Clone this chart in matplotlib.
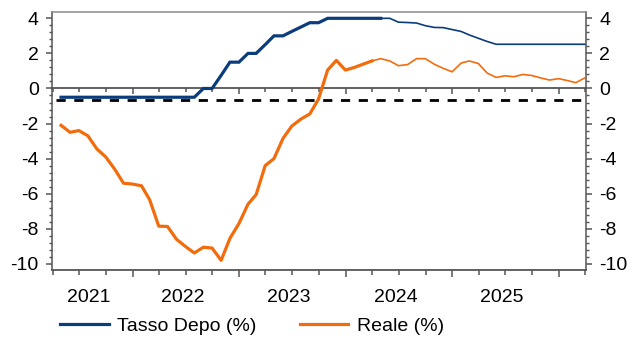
import matplotlib
matplotlib.use('Agg')
import matplotlib.pyplot as plt
import matplotlib.dates as mdates
import matplotlib.transforms as mtransforms
from matplotlib.ticker import MultipleLocator, AutoMinorLocator, NullFormatter
import pandas as pd

plt.rcParams['font.family'] = ['Liberation Sans', 'DejaVu Sans']
plt.rcParams['axes.unicode_minus'] = False

# ---------------- data ----------------
dates = pd.date_range('2021-04-30', '2026-03-31', freq='ME')

depo = [-0.5, -0.5, -0.5, -0.5, -0.5, -0.5, -0.5, -0.5, -0.5, -0.5,
        -0.5, -0.5, -0.5, -0.5, -0.5, -0.5, 0.0, 0.0, 0.75, 1.5,
        1.5, 2.0, 2.0, 2.5, 3.0, 3.0, 3.25, 3.5, 3.75, 3.75,
        4.0, 4.0, 4.0, 4.0, 4.0, 4.0, 4.0, 4.0, 3.78, 3.76,
        3.73, 3.58, 3.48, 3.47, 3.36, 3.25, 3.05, 2.86, 2.68, 2.52,
        2.52, 2.52, 2.52, 2.52, 2.52, 2.52, 2.52, 2.52, 2.52, 2.52]

reale = [-2.1, -2.5, -2.4, -2.7, -3.45, -3.9, -4.6, -5.4, -5.45, -5.55,
         -6.35, -7.85, -7.87, -8.6, -9.0, -9.38, -9.05, -9.1, -9.8, -8.55,
         -7.7, -6.6, -6.05, -4.4, -4.0, -2.85, -2.15, -1.75, -1.45, -0.6,
         1.05, 1.6, 1.05, 1.2, 1.38, 1.57, 1.7, 1.57, 1.3, 1.36,
         1.7, 1.7, 1.38, 1.15, 0.95, 1.45, 1.57, 1.42, 0.88, 0.63,
         0.72, 0.67, 0.8, 0.74, 0.6, 0.48, 0.56, 0.45, 0.33, 0.6]

depo_last_actual = 36    # index of last observed value (Apr 2024)
reale_last_actual = 35   # index of last observed value (Mar 2024)
dashed_level = -0.65

series_labels = ['Tasso Depo (%)', 'Reale (%)']
year_labels = ['2021', '2022', '2023', '2024', '2025']
year_label_dates = ['2021-08-04', '2022-06-20', '2023-06-20', '2024-06-20', '2025-06-20']

# ---------------- style ----------------
BLUE = '#0b3d7c'
ORANGE = '#f26c0d'
AXC = '#555555'

x = mdates.date2num(dates)

fig = plt.figure(figsize=(6.32, 3.38), dpi=100)
W, H = 632, 338
ax = fig.add_axes([52 / W, 1 - 270 / H, (586 - 52) / W, (270 - 12) / H])

ax.set_xlim(mdates.date2num(pd.Timestamp('2021-03-30')),
            mdates.date2num(pd.Timestamp('2026-04-04')))
ax.set_ylim(-10.35, 4.36)

# dashed reference line
ax.axhline(dashed_level, xmin=0.008, xmax=1, color='black', lw=2.0,
           dashes=(3.3, 3.1), zorder=2)

# Depo: actual thick, forecast thin
ia = depo_last_actual
l1, = ax.plot(x[:ia + 1], depo[:ia + 1], color=BLUE, lw=2.3,
              solid_joinstyle='miter', zorder=3)
ax.plot(x[ia:], depo[ia:], color=BLUE, lw=1.2, zorder=3)

ib = reale_last_actual
l2, = ax.plot(x[:ib + 1], reale[:ib + 1], color=ORANGE, lw=2.3, zorder=4)
ax.plot(x[ib:], reale[ib:], color=ORANGE, lw=1.2, zorder=4)

# spines
for s in ['left', 'right', 'top']:
    ax.spines[s].set_color(AXC)
    ax.spines[s].set_linewidth(1.1)
ax.spines['top'].set_color('#8a8a8a')
ax.spines['bottom'].set_position(('data', 0))
ax.spines['bottom'].set_color(AXC)
ax.spines['bottom'].set_linewidth(1.3)

# y axis
ax.yaxis.set_major_locator(MultipleLocator(2))
ax.yaxis.set_minor_locator(AutoMinorLocator(5))
ax.tick_params(axis='y', which='both', left=True, right=True,
               labelleft=True, labelright=True, direction='out',
               colors=AXC, labelcolor='black', labelsize=14)
ax.tick_params(axis='y', which='major', length=4.5, width=1.1, pad=5)
ax.tick_params(axis='y', which='minor', length=2.5, width=1.0)

# x ticks on the zero line
ax.xaxis.set_major_locator(mdates.YearLocator())
ax.xaxis.set_minor_locator(mdates.MonthLocator(bymonth=[4, 7, 10]))
ax.xaxis.set_major_formatter(NullFormatter())
ax.tick_params(axis='x', which='both', direction='out', colors=AXC,
               labelbottom=False)
ax.tick_params(axis='x', which='major', length=4.5, width=1.1)
ax.tick_params(axis='x', which='minor', length=2.8, width=1.1)

# bottom frame axis
sec = ax.secondary_xaxis(0.0)
sec.spines['bottom'].set_color(AXC)
sec.spines['bottom'].set_linewidth(1.3)
sec.xaxis.set_major_locator(mdates.YearLocator())
sec.xaxis.set_minor_locator(mdates.MonthLocator(bymonth=[4, 7, 10]))
sec.xaxis.set_major_formatter(NullFormatter())
sec.xaxis.set_minor_formatter(NullFormatter())
sec.tick_params(axis='x', which='both', direction='out', colors=AXC)
sec.tick_params(axis='x', which='major', length=5.2, width=1.1)
sec.tick_params(axis='x', which='minor', length=3.6, width=1.1)

# year labels
trans = mtransforms.blended_transform_factory(ax.transData, fig.transFigure)
for lab, d in zip(year_labels, year_label_dates):
    ax.text(mdates.date2num(pd.Timestamp(d)), 1 - 297 / H, lab,
            transform=trans, ha='center', va='center', fontsize=14)

# legend
fig.legend([l1, l2], series_labels, loc='center left',
           bbox_to_anchor=(60 / W, 1 - 326 / H), ncol=2, frameon=False,
           fontsize=14, handlelength=2.5, handletextpad=0.45,
           columnspacing=2.2, borderpad=0, borderaxespad=0)

fig.savefig('out.png', dpi=100)
